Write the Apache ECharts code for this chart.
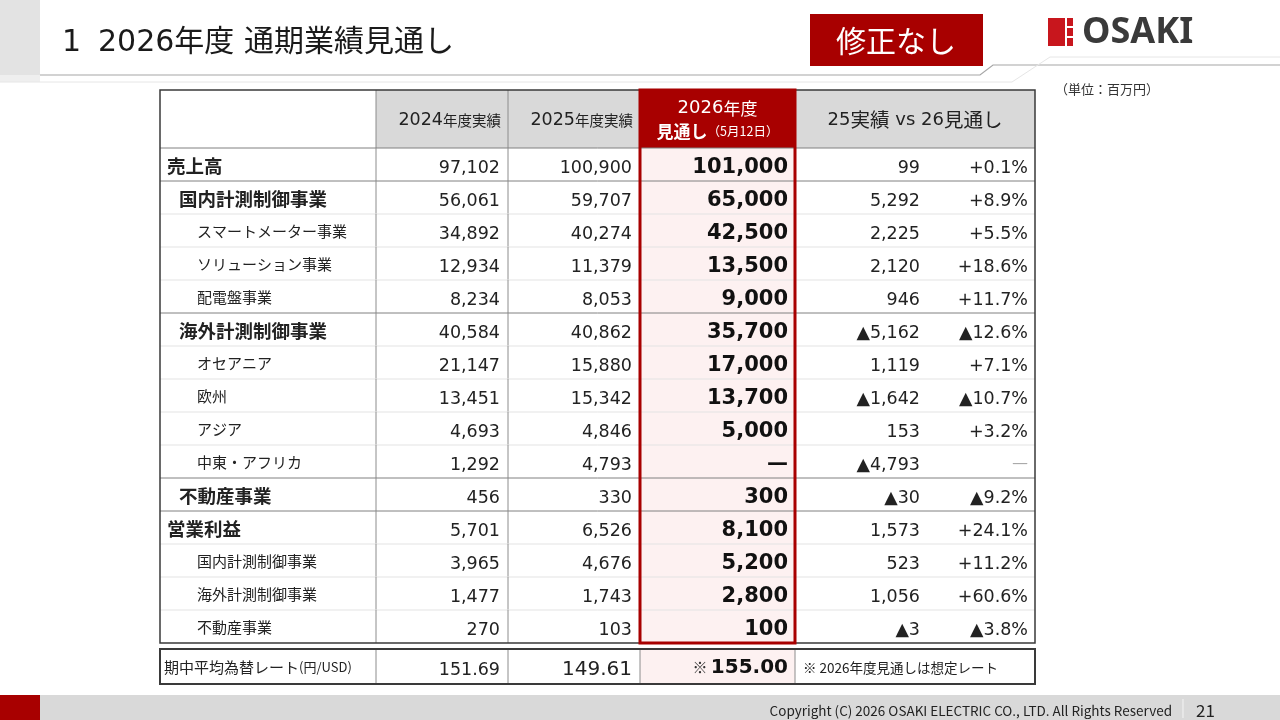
<!DOCTYPE html>
<html>
<head>
<meta charset="utf-8">
<script src="https://cdn.jsdelivr.net/npm/echarts@6/dist/echarts.min.js"></script>
<style>
  html, body { margin: 0; padding: 0; background: #fff; }
  #main { width: 1280px; height: 720px; }
</style>
</head>
<body>
<div id="main"></div>
<script>
// ---- data ----
const rowLabels = ['売上高', '国内計測制御事業', 'スマートメーター事業', 'ソリューション事業', '配電盤事業',
  '海外計測制御事業', 'オセアニア', '欧州', 'アジア', '中東・アフリカ', '不動産事業',
  '営業利益', '国内計測制御事業', '海外計測制御事業', '不動産事業'];
// 0 = total, 1 = segment, 2 = sub item
const rowLevels = [0, 1, 2, 2, 2, 1, 2, 2, 2, 2, 1, 0, 2, 2, 2];
const fy2024 = [97102, 56061, 34892, 12934, 8234, 40584, 21147, 13451, 4693, 1292, 456, 5701, 3965, 1477, 270];
const fy2025 = [100900, 59707, 40274, 11379, 8053, 40862, 15880, 15342, 4846, 4793, 330, 6526, 4676, 1743, 103];
const fy2026 = [101000, 65000, 42500, 13500, 9000, 35700, 17000, 13700, 5000, null, 300, 8100, 5200, 2800, 100];
const diffAmount = [99, 5292, 2225, 2120, 946, -5162, 1119, -1642, 153, -4793, -30, 1573, 523, 1056, -3];
const diffPct = [0.1, 8.9, 5.5, 18.6, 11.7, -12.6, 7.1, -10.7, 3.2, null, -9.2, 24.1, 11.2, 60.6, -3.8];
const rateValues = [151.69, 149.61, 155.00];
const rateLabel = '期中平均為替レート';
const rateUnit = '(円/USD)';
const rateNote = '※ 2026年度見通しは想定レート';

// ---- layout ----
const FONT = '"Noto Sans CJK JP", "Noto Sans", sans-serif';
const NUM = '"DejaVu Sans", "Noto Sans CJK JP", sans-serif';
const RED = '#a80000';
const GRAY = '#d9d9d9';
const PINK = '#fdf1f1';
const COL_EDGES = [0, 216, 348, 480, 635, 875];
const HEADER_H = 58, ROW_H = 33, RATE_GAP = 6, RATE_H = 35;
const BODY_BOTTOM = HEADER_H + ROW_H * rowLabels.length;
const RATE_TOP = BODY_BOTTOM + RATE_GAP;
const TABLE_H = RATE_TOP + RATE_H;
const RATE_ROW = rowLabels.length;

function rowSpan(r) {
  if (r < 0) return [0, HEADER_H];
  if (r >= RATE_ROW) return [RATE_TOP, RATE_TOP + RATE_H];
  return [HEADER_H + ROW_H * r, HEADER_H + ROW_H * (r + 1)];
}

const fmt = v => Math.abs(v).toLocaleString('en-US');
const fmtSigned = v => (v < 0 ? '▲' : '') + fmt(v);
const fmtPct = v => (v < 0 ? '▲' : '+') + Math.abs(v).toFixed(1) + '%';

function rich(styles) {
  const out = {};
  Object.keys(styles).forEach(k => { out[k] = Object.assign({ fontFamily: FONT }, styles[k]); });
  return out;
}

// ---- cell list ----
const cells = [];
cells.push({ c: 0, r: -1, fill: '#fff', texts: [] });
[['2024', '年度実績'], ['2025', '年度実績']].forEach((h, i) => {
  cells.push({ c: i + 1, r: -1, fill: GRAY, texts: [{
    text: '{a|' + h[0] + '}{b|' + h[1] + '}', at: 'right', pad: 7,
    rich: rich({ a: { fontSize: 17.5, fontFamily: NUM, fill: '#222' }, b: { fontSize: 14.5, fill: '#222' } })
  }] });
});
cells.push({ c: 3, r: -1, fill: RED, texts: [{
  text: '{a|2026}{b|年度}\n{c|見通し}{d|（5月12日）}', at: 'center',
  rich: rich({
    a: { fontSize: 18, fontFamily: NUM, fill: '#fff', lineHeight: 23 },
    b: { fontSize: 17, fill: '#fff', lineHeight: 23 },
    c: { fontSize: 17, fontWeight: 'bold', fill: '#fff', lineHeight: 23 },
    d: { fontSize: 12.5, fill: '#fff', lineHeight: 23 }
  })
}] });
cells.push({ c: 4, r: -1, fill: GRAY, texts: [{
  text: '{a|25}{b|実績}{a| vs 26}{b|見通し}', at: 'center',
  rich: rich({ a: { fontSize: 18, fontFamily: NUM, fill: '#222' }, b: { fontSize: 19.5, fill: '#222' } })
}] });

rowLabels.forEach((label, r) => {
  const lv = rowLevels[r];
  cells.push({ c: 0, r, fill: '#fff', texts: [{
    text: label, at: 'left', pad: lv === 0 ? 7 : (lv === 1 ? 19 : 37),
    size: lv === 2 ? 15 : 18.5, weight: lv === 2 ? 'normal' : 'bold'
  }] });
  cells.push({ c: 1, r, fill: '#fff', texts: [{ text: fmt(fy2024[r]), at: 'right', pad: 8, size: 17.5, font: NUM }] });
  cells.push({ c: 2, r, fill: '#fff', texts: [{ text: fmt(fy2025[r]), at: 'right', pad: 8, size: 17.5, font: NUM }] });
  cells.push({ c: 3, r, fill: PINK, texts: [{
    text: fy2026[r] == null ? '—' : fmt(fy2026[r]), at: 'right', pad: 7,
    size: 21, weight: 'bold', color: '#111', font: NUM
  }] });
  cells.push({ c: 4, r, fill: '#fff', texts: [
    { text: fmtSigned(diffAmount[r]), at: 125, size: 17.5, font: NUM },
    diffPct[r] == null
      ? { text: '—', at: 'right', pad: 7, size: 18, color: '#aaa' }
      : { text: fmtPct(diffPct[r]), at: 'right', pad: 7, size: 17.5, font: NUM }
  ] });
});

cells.push({ c: 0, r: RATE_ROW, fill: '#fff', texts: [{
  text: '{a|' + rateLabel + '}{b|' + rateUnit + '}', at: 'left', pad: 4,
  rich: rich({ a: { fontSize: 15, fill: '#222' }, b: { fontSize: 13, fill: '#222' } })
}] });
cells.push({ c: 1, r: RATE_ROW, fill: '#fff', texts: [{ text: rateValues[0].toFixed(2), at: 'right', pad: 8, size: 17.5, font: NUM }] });
cells.push({ c: 2, r: RATE_ROW, fill: '#fff', texts: [{ text: rateValues[1].toFixed(2), at: 'right', pad: 8, size: 20, font: NUM }] });
cells.push({ c: 3, r: RATE_ROW, fill: PINK, texts: [{
  text: '{a|※ }{b|' + rateValues[2].toFixed(2) + '}', at: 'right', pad: 7,
  rich: rich({ a: { fontSize: 15, fill: '#333' }, b: { fontSize: 20, fontWeight: 'bold', fontFamily: NUM, fill: '#111' } })
}] });
cells.push({ c: 4, r: RATE_ROW, fill: '#fff', texts: [{ text: rateNote, at: 'left', pad: 8, size: 13.5 }] });

// ---- render helpers ----
function cellRect(api, c, r) {
  const span = rowSpan(r);
  const p0 = api.coord([COL_EDGES[c], span[0]]);
  const p1 = api.coord([COL_EDGES[c + 1], span[1]]);
  return { x0: p0[0], y0: p0[1], x1: p1[0], y1: p1[1] };
}

function renderCell(params, api) {
  const cell = cells[params.dataIndex];
  const b = cellRect(api, api.value(0), api.value(1));
  const children = [{
    type: 'rect', shape: { x: b.x0, y: b.y0, width: b.x1 - b.x0, height: b.y1 - b.y0 },
    style: { fill: cell.fill }
  }];
  const yMid = (b.y0 + b.y1) / 2 + 1;
  cell.texts.forEach(t => {
    let x, align;
    if (t.at === 'left') { x = b.x0 + t.pad; align = 'left'; }
    else if (t.at === 'right') { x = b.x1 - t.pad; align = 'right'; }
    else if (t.at === 'center') { x = (b.x0 + b.x1) / 2; align = 'center'; }
    else { x = b.x0 + t.at; align = 'right'; }
    // DejaVu glyphs sit higher than the CJK face, nudge them down
    const dy = t.font === NUM ? 2.5 : 0;
    children.push({
      type: 'text',
      style: {
        text: t.text, rich: t.rich, x, y: yMid + dy, align, verticalAlign: 'middle',
        fill: t.color || '#222', fontSize: t.size || 16, fontWeight: t.weight || 'normal',
        fontFamily: t.font || FONT
      }
    });
  });
  return { type: 'group', children };
}

// grid rules: one item per row (header = -1, rate row = RATE_ROW)
const ruleRows = [-1].concat(rowLabels.map((_, i) => i), [RATE_ROW]);
function renderRule(params, api) {
  const r = api.value(1);
  const span = rowSpan(r);
  const left = api.coord([COL_EDGES[0], span[0]]);
  const right = api.coord([COL_EDGES[COL_EDGES.length - 1], span[1]]);
  const children = [];
  if (r >= 0 && r < RATE_ROW) {
    const major = r === 0 || rowLevels[r] <= 1;
    children.push({
      type: 'line', shape: { x1: left[0], y1: left[1], x2: right[0], y2: left[1] },
      style: { stroke: major ? '#808080' : '#e3e3e3', lineWidth: 1 }
    });
  }
  for (let c = 1; c < COL_EDGES.length - 1; c++) {
    const x = api.coord([COL_EDGES[c], span[0]])[0];
    children.push({
      type: 'line', shape: { x1: x, y1: left[1], x2: x, y2: right[1] },
      style: { stroke: '#8c8c8c', lineWidth: 1 }
    });
  }
  return { type: 'group', children };
}

function renderFrame(params, api) {
  const tl = api.coord([COL_EDGES[0], 0]);
  const br = api.coord([COL_EDGES[5], BODY_BOTTOM]);
  const rt = api.coord([COL_EDGES[0], RATE_TOP]);
  const rb = api.coord([COL_EDGES[5], TABLE_H]);
  const h0 = api.coord([COL_EDGES[3], 0]);
  const h1 = api.coord([COL_EDGES[4], BODY_BOTTOM]);
  return { type: 'group', children: [
    { type: 'rect', shape: { x: tl[0], y: tl[1], width: br[0] - tl[0], height: br[1] - tl[1] },
      style: { fill: null, stroke: '#3a3a3a', lineWidth: 1.5 } },
    { type: 'rect', shape: { x: rt[0], y: rt[1], width: rb[0] - rt[0], height: rb[1] - rt[1] },
      style: { fill: null, stroke: '#3a3a3a', lineWidth: 2 } },
    { type: 'rect', shape: { x: h0[0], y: h0[1], width: h1[0] - h0[0], height: h1[1] - h0[1] },
      style: { fill: null, stroke: RED, lineWidth: 3 } }
  ] };
}

const chart = echarts.init(document.getElementById('main'), null, { renderer: 'canvas' });
chart.setOption({
  animation: false,
  backgroundColor: '#fff',
  grid: { left: 160, top: 90, width: COL_EDGES[5], height: TABLE_H },
  xAxis: { type: 'value', min: 0, max: COL_EDGES[5], show: false },
  yAxis: { type: 'value', min: 0, max: TABLE_H, inverse: true, show: false },
  graphic: [
    // header band and title
    { type: 'rect', shape: { x: 0, y: 0, width: 40, height: 75 }, style: { fill: '#e3e3e3' } },
    { type: 'rect', shape: { x: 0, y: 75, width: 40, height: 7 }, style: { fill: '#efefef' } },
    { type: 'polyline', shape: { points: [[40, 75], [980, 75], [993, 65], [1280, 65]] },
      style: { stroke: '#a6a6a6', lineWidth: 1.2, fill: null } },
    { type: 'polyline', shape: { points: [[0, 82], [1012, 82], [1050, 57], [1280, 57]] },
      style: { stroke: '#e6e6e6', lineWidth: 1, fill: null } },
    { type: 'text', x: 62, y: 43, style: { text: '1', fontSize: 30, fontFamily: NUM, fill: '#1a1a1a', verticalAlign: 'middle' } },
    { type: 'text', x: 98, y: 43, style: { text: '2026年度 通期業績見通し', fontSize: 30, fontFamily: NUM, fill: '#1a1a1a', verticalAlign: 'middle' } },
    // badge
    { type: 'rect', shape: { x: 810, y: 14, width: 173, height: 52 }, style: { fill: RED } },
    { type: 'text', x: 896, y: 41, style: { text: '修正なし', fontSize: 30, fontFamily: FONT, fill: '#fff', align: 'center', verticalAlign: 'middle' } },
    // logo
    { type: 'rect', shape: { x: 1048, y: 18, width: 17, height: 28 }, style: { fill: '#c8161d' } },
    { type: 'rect', shape: { x: 1067, y: 18, width: 6, height: 8 }, style: { fill: '#c8161d' } },
    { type: 'rect', shape: { x: 1067, y: 28, width: 6, height: 8 }, style: { fill: '#c8161d' } },
    { type: 'rect', shape: { x: 1067, y: 38, width: 6, height: 8 }, style: { fill: '#c8161d' } },
    { type: 'text', x: 1082, y: 33, style: { text: 'OSAKI', fontSize: 36, fontWeight: 'bold', fontFamily: '"Noto Sans", sans-serif', fill: '#3a3a3a', verticalAlign: 'middle' } },
    { type: 'text', x: 1055, y: 89, style: { text: '（単位：百万円）', fontSize: 13, fontFamily: FONT, fill: '#333', verticalAlign: 'middle' } },
    // footer
    { type: 'rect', shape: { x: 0, y: 695, width: 1280, height: 25 }, style: { fill: '#d9d9d9' } },
    { type: 'rect', shape: { x: 0, y: 695, width: 40, height: 25 }, style: { fill: RED } },
    { type: 'text', x: 1172, y: 711, style: { text: 'Copyright (C) 2026 OSAKI ELECTRIC CO., LTD. All Rights Reserved', fontSize: 13.5, fontFamily: FONT, fill: '#222', align: 'right', verticalAlign: 'middle' } },
    { type: 'line', shape: { x1: 1183, y1: 699, x2: 1183, y2: 718 }, style: { stroke: '#f4f4f4', lineWidth: 1 } },
    { type: 'text', x: 1196, y: 711, style: { text: '21', fontSize: 17, fontFamily: FONT, fill: '#222', verticalAlign: 'middle' } }
  ],
  series: [
    { type: 'custom', name: 'cells', clip: false, z: 2, renderItem: renderCell,
      data: cells.map(d => [d.c, d.r]) },
    { type: 'custom', name: 'rules', clip: false, z: 3, renderItem: renderRule,
      data: ruleRows.map(r => [0, r]) },
    { type: 'custom', name: 'frame', clip: false, z: 4, renderItem: renderFrame,
      data: [[0, 0]] }
  ]
});
</script>
</body>
</html>
